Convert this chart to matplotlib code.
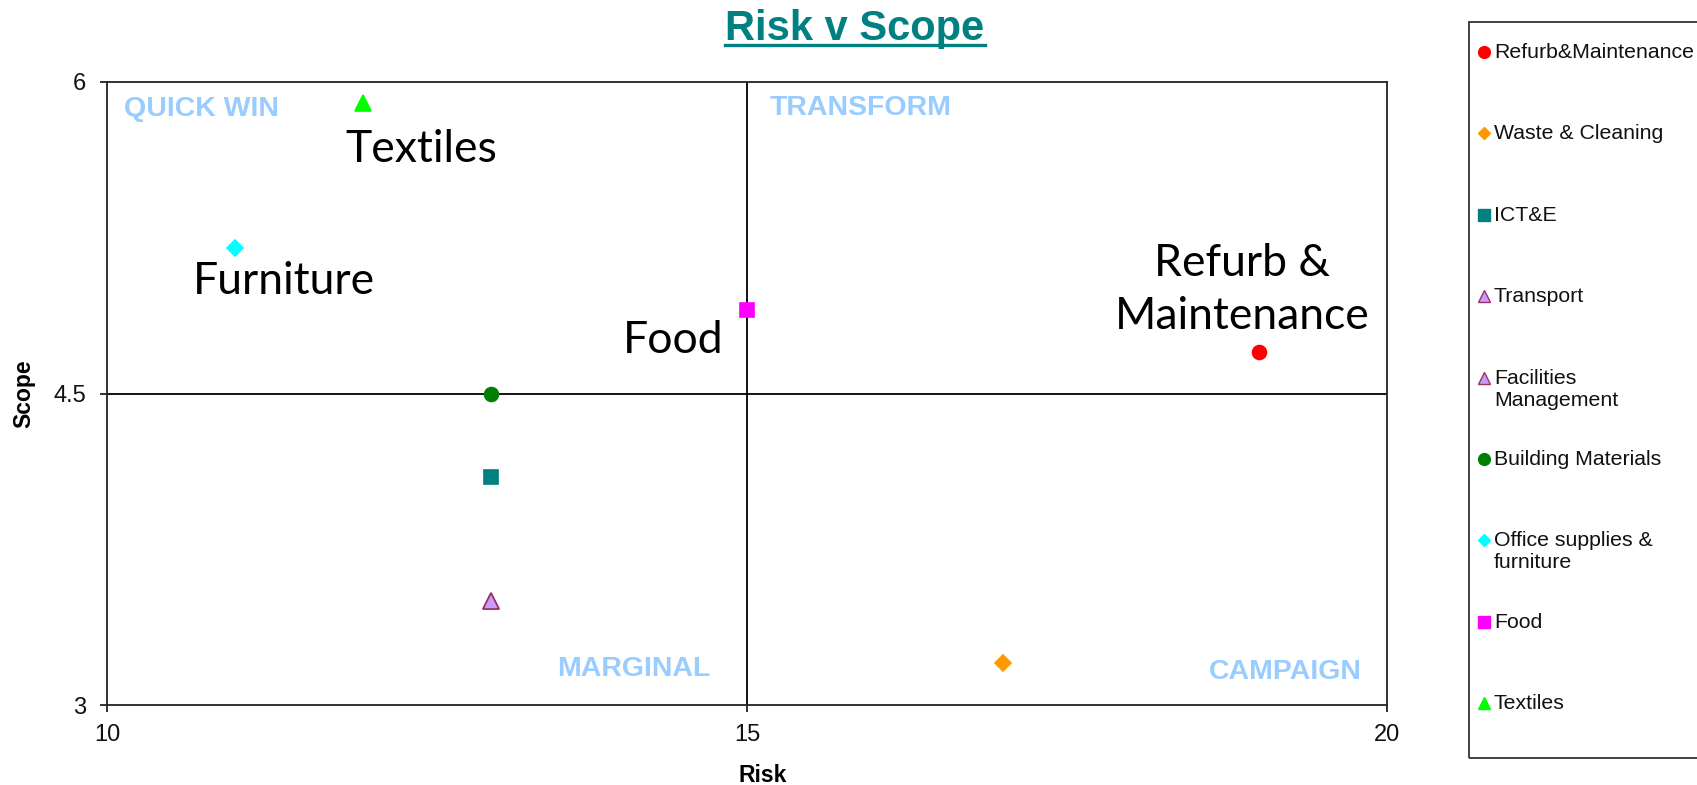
import matplotlib.pyplot as plt
from matplotlib.lines import Line2D
from matplotlib.patches import Rectangle

# series shown on the risk / scope grid
series = ["Refurb&Maintenance", "Waste & Cleaning", "ICT&E", "Transport",
          "Facilities\nManagement", "Building Materials",
          "Office supplies &\nfurniture", "Food", "Textiles"]
risk = [19, 17, 13, 13, 13, 13, 11, 15, 12]
scope = [4.7, 3.2, 4.1, 3.5, 3.5, 4.5, 5.2, 4.9, 5.9]

# marker styles per series
markers = ["o", "D", "s", "^", "^", "o", "D", "s", "^"]
faces = ["#FF0000", "#FF9900", "#008080", "#CC99FF", "#CC99FF",
         "#008000", "#00FFFF", "#FF00FF", "#00FF00"]
edges = ["#FF0000", "#FF9900", "#008080", "#993366", "#993366",
         "#008000", "#00FFFF", "#FF00FF", "#00FF00"]
sizes = [10, 8, 10, 11, 11, 10, 8, 10, 11]
leg_sizes = [8.5, 6, 9, 9, 9, 8.5, 6, 9, 9]

# big callouts next to some points: (series index, text, offset in px)
callouts = [(0, "Refurb &\nMaintenance", (-17, 62)),
            (6, "Furniture", (49, -33)),
            (7, "Food", (-74, -30)),
            (8, "Textiles", (58, -47))]

# quadrant names, axes fraction positions
quadrants = [("QUICK WIN", 0.0133, 0.956),
             ("TRANSFORM", 0.518, 0.958),
             ("MARGINAL", 0.3516, 0.058),
             ("CAMPAIGN", 0.861, 0.053)]

plt.rcParams['font.family'] = ['Liberation Sans', 'DejaVu Sans']

W, H = 1697, 785
fig = plt.figure(figsize=(W / 100, H / 100), dpi=100)
ax = fig.add_axes([107 / W, 1 - 705 / H, 1280 / W, 623 / H])

ax.set_xlim(10, 20)
ax.set_ylim(3, 6)
ax.set_xticks([10, 15, 20])
ax.set_yticks([3, 4.5, 6])
ax.set_yticklabels(["3", "4.5", "6"])
ax.tick_params(direction="out", length=5, width=1.2, labelsize=17,
               colors="#111111")
ax.tick_params(axis="x", pad=9)
ax.tick_params(axis="y", pad=10)
for s in ax.spines.values():
    s.set_linewidth(1.3)
    s.set_color("#222222")

# quadrant dividers
ax.axvline(15, color="black", lw=1.3, zorder=1)
ax.axhline(4.5, color="black", lw=1.3, zorder=1)

for i in range(len(series)):
    ax.plot(risk[i], scope[i], marker=markers[i], ms=sizes[i],
            mfc=faces[i], mec=edges[i], mew=1.2, ls="none", zorder=3)

for i, txt, off in callouts:
    ax.annotate(txt, (risk[i], scope[i]), xytext=off,
                textcoords="offset pixels", ha="center", va="center",
                fontsize=32, family="Lato", color="black",
                linespacing=1.37)

for txt, qx, qy in quadrants:
    ax.text(qx, qy, txt, transform=ax.transAxes, ha="left", va="center",
            fontsize=20.5, fontweight="bold", color="#99CCFF")

ax.set_xlabel("Risk", fontsize=16.5, fontweight="bold")
ax.set_ylabel("Scope", fontsize=16.5, fontweight="bold")
ax.xaxis.set_label_coords(0.512, -0.094)
ax.yaxis.set_label_coords(-0.056, 0.5)

# title with underline
title = fig.text(855 / W, 1 - 29 / H, "Risk v Scope", ha="center",
                 va="center", fontsize=30, fontweight="bold",
                 color="#008080")
fig.canvas.draw()
bb = title.get_window_extent()
fig.add_artist(Line2D([bb.x0 / W, bb.x1 / W], [1 - 45 / H, 1 - 45 / H],
                      transform=fig.transFigure, color="#008080", lw=2.4))

# legend box drawn by hand
fig.add_artist(Rectangle((1469 / W, 1 - 758 / H), 240 / W, 736 / H,
                         transform=fig.transFigure, fill=False,
                         ec="#333333", lw=1.3))
for i, name in enumerate(series):
    y = 1 - (52 + i * 81.4) / H
    fig.add_artist(Line2D([1484 / W], [y], transform=fig.transFigure,
                          marker=markers[i], ms=leg_sizes[i], mfc=faces[i],
                          mec=edges[i], mew=1.0, ls="none"))
    fig.text(1494 / W, y + 9 / H, name, ha="left", va="top",
             fontsize=15.3, color="#111111", linespacing=1.2)

fig.savefig("out.png", dpi=100, facecolor="white")
